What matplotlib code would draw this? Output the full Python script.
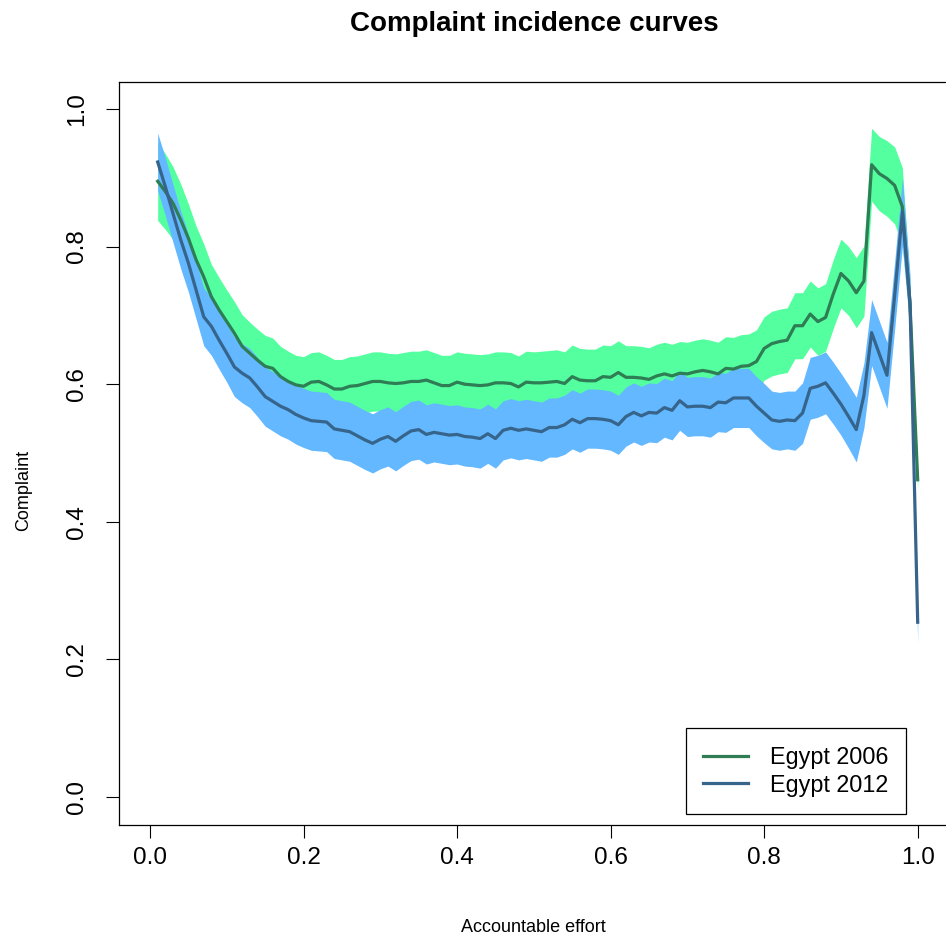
import numpy as np
import matplotlib
matplotlib.use("Agg")
import matplotlib.pyplot as plt

plt.rcParams['font.family'] = ['Liberation Sans', 'DejaVu Sans']

effort = [round(0.01 * i, 2) for i in range(1, 101)]

# Egypt 2006 curve and half width of its band
egypt_2006 = [
    0.895, 0.880, 0.863, 0.839, 0.812, 0.781, 0.756, 0.727, 0.708, 0.691,
    0.674, 0.655, 0.645, 0.635, 0.626, 0.623, 0.611, 0.604, 0.599, 0.597,
    0.603, 0.604, 0.599, 0.593, 0.593, 0.597, 0.598, 0.601, 0.604, 0.604,
    0.602, 0.601, 0.602, 0.604, 0.604, 0.606, 0.602, 0.598, 0.598, 0.603,
    0.600, 0.599, 0.598, 0.599, 0.602, 0.602, 0.601, 0.596, 0.603, 0.602,
    0.602, 0.603, 0.604, 0.601, 0.611, 0.606, 0.605, 0.605, 0.611, 0.610,
    0.617, 0.610, 0.610, 0.609, 0.607, 0.612, 0.615, 0.612, 0.616, 0.615,
    0.618, 0.620, 0.618, 0.615, 0.623, 0.622, 0.626, 0.627, 0.633, 0.652,
    0.659, 0.662, 0.664, 0.685, 0.685, 0.702, 0.691, 0.697, 0.731, 0.761,
    0.750, 0.733, 0.750, 0.919, 0.906, 0.899, 0.889, 0.858, 0.716, 0.461,
]
band_2006 = [
    0.057, 0.055, 0.053, 0.052, 0.050, 0.049, 0.048, 0.047, 0.047, 0.046,
    0.046, 0.046, 0.045, 0.045, 0.045, 0.044, 0.044, 0.044, 0.043, 0.043,
    0.043, 0.043, 0.043, 0.043, 0.043, 0.043, 0.043, 0.043, 0.043, 0.043,
    0.043, 0.043, 0.044, 0.044, 0.044, 0.044, 0.044, 0.044, 0.044, 0.044,
    0.045, 0.045, 0.045, 0.045, 0.045, 0.045, 0.045, 0.045, 0.045, 0.045,
    0.046, 0.046, 0.046, 0.046, 0.046, 0.046, 0.046, 0.046, 0.046, 0.046,
    0.046, 0.046, 0.046, 0.046, 0.046, 0.046, 0.046, 0.046, 0.046, 0.046,
    0.046, 0.046, 0.046, 0.046, 0.046, 0.046, 0.046, 0.046, 0.046, 0.046,
    0.047, 0.047, 0.047, 0.048, 0.048, 0.048, 0.049, 0.049, 0.050, 0.050,
    0.050, 0.051, 0.051, 0.053, 0.054, 0.055, 0.056, 0.057, 0.030, 0.015,
]

# Egypt 2012 curve and half width of its band
egypt_2012 = [
    0.923, 0.887, 0.848, 0.810, 0.776, 0.737, 0.698, 0.684, 0.664, 0.645,
    0.625, 0.616, 0.609, 0.596, 0.582, 0.575, 0.568, 0.563, 0.556, 0.551,
    0.547, 0.546, 0.545, 0.535, 0.533, 0.531, 0.525, 0.519, 0.514, 0.520,
    0.524, 0.517, 0.525, 0.532, 0.534, 0.527, 0.530, 0.528, 0.526, 0.527,
    0.524, 0.523, 0.521, 0.528, 0.521, 0.533, 0.536, 0.533, 0.535, 0.533,
    0.531, 0.537, 0.537, 0.541, 0.549, 0.544, 0.550, 0.550, 0.549, 0.547,
    0.541, 0.553, 0.559, 0.554, 0.559, 0.558, 0.566, 0.562, 0.576, 0.567,
    0.568, 0.568, 0.566, 0.574, 0.573, 0.580, 0.580, 0.580, 0.568, 0.558,
    0.548, 0.546, 0.548, 0.547, 0.558, 0.594, 0.597, 0.602, 0.587, 0.571,
    0.553, 0.534, 0.584, 0.675, 0.644, 0.613, 0.729, 0.850, 0.719, 0.254,
]
band_2012 = [
    0.042, 0.042, 0.042, 0.042, 0.042, 0.042, 0.042, 0.042, 0.042, 0.042,
    0.043, 0.043, 0.043, 0.043, 0.043, 0.043, 0.043, 0.043, 0.043, 0.043,
    0.043, 0.043, 0.043, 0.043, 0.043, 0.043, 0.043, 0.043, 0.043, 0.043,
    0.043, 0.043, 0.043, 0.043, 0.043, 0.043, 0.043, 0.043, 0.043, 0.043,
    0.043, 0.043, 0.043, 0.043, 0.043, 0.043, 0.043, 0.043, 0.043, 0.043,
    0.043, 0.043, 0.043, 0.043, 0.043, 0.043, 0.043, 0.043, 0.043, 0.043,
    0.043, 0.043, 0.043, 0.043, 0.043, 0.043, 0.043, 0.043, 0.043, 0.043,
    0.043, 0.043, 0.043, 0.043, 0.043, 0.043, 0.043, 0.043, 0.043, 0.043,
    0.042, 0.042, 0.042, 0.043, 0.044, 0.045, 0.045, 0.045, 0.045, 0.045,
    0.046, 0.047, 0.047, 0.048, 0.048, 0.048, 0.049, 0.050, 0.040, 0.030,
]

ticks = [0.0, 0.2, 0.4, 0.6, 0.8, 1.0]
tick_labels = ["0.0", "0.2", "0.4", "0.6", "0.8", "1.0"]

x = np.array(effort)
g = np.array(egypt_2006)
b = np.array(egypt_2012)
gw = np.array(band_2006)
bw = np.array(band_2012)

fig = plt.figure(figsize=(9.46, 9.43), dpi=100)
ax = fig.add_axes([119.3 / 946, 1 - 824.5 / 943, 829.1 / 946, 743 / 943])

# bands first (2012 over 2006), then the two curves
ax.fill_between(x, g - gw, g + gw, color='#54FF9F', linewidth=0)
ax.fill_between(x, b - bw, b + bw, color='#63B8FF', linewidth=0)
ax.plot(x, g, color='#2E7D55', lw=2.3, label='Egypt 2006')
ax.plot(x, b, color='#36648B', lw=2.3, label='Egypt 2012')

ax.set_xlim(-0.04, 1.04)
ax.set_ylim(-0.04, 1.04)
ax.set_xticks(ticks)
ax.set_xticklabels(tick_labels)
ax.set_yticks(ticks)
ax.set_yticklabels(tick_labels, rotation=90, va='center')
ax.tick_params(direction='out', length=9.5, width=0.8, labelsize=17.5, colors='black')
ax.tick_params(axis='x', pad=7)
ax.tick_params(axis='y', pad=13)
for s in ax.spines.values():
    s.set_linewidth(0.9)

ax.set_xlabel('Accountable effort', fontsize=13, va='center')
ax.xaxis.set_label_coords(0.5, -0.139)
ax.set_ylabel('Complaint', fontsize=13, va='center')
ax.yaxis.set_label_coords(-0.115, 0.45)
ax.set_title('Complaint incidence curves', fontsize=20, fontweight='bold', y=1.066, va='center')

leg = ax.legend(loc='lower right', bbox_to_anchor=(0.9489, 0.0141), fontsize=16.8,
                frameon=True, fancybox=False, edgecolor='black', framealpha=1,
                handlelength=1.93, handletextpad=0.94, borderpad=0.75, labelspacing=0.2,
                borderaxespad=0)
leg.get_frame().set_linewidth(0.9)
for line in leg.get_lines():
    line.set_linewidth(2.3)

fig.savefig('out.png', dpi=100)
